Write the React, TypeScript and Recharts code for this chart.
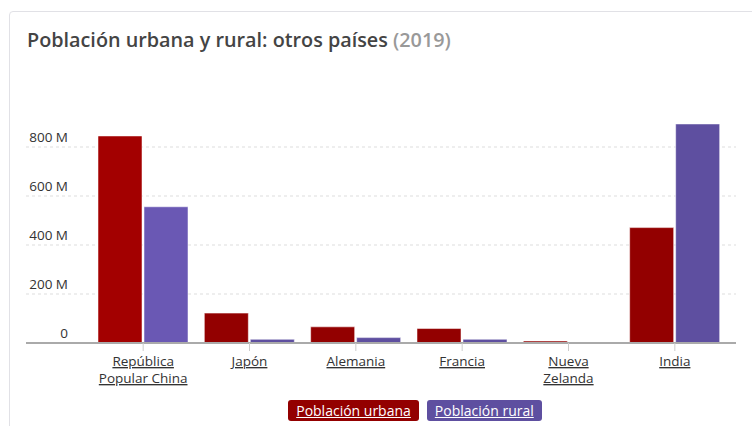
import { BarChart, Bar, XAxis, YAxis, CartesianGrid, Cell, Legend } from 'recharts'

const countries = ['República Popular China', 'Japón', 'Alemania', 'Francia', 'Nueva Zelanda', 'India']
const tickLines = [['República', 'Popular China'], ['Japón'], ['Alemania'], ['Francia'], ['Nueva', 'Zelanda'], ['India']]
const urbana = [845, 122, 66, 59, 8, 471]
const rural = [556, 15, 22, 15, 0.7, 894]
const yTicks = [0, 200, 400, 600, 800]
const yTickLabels = ['0', '200 M', '400 M', '600 M', '800 M']

const series = [
    { key: 'urbana', name: 'Población urbana', color: '#930000', highlight: '#a30000' },
    { key: 'rural', name: 'Población rural', color: '#5e4fa0', highlight: '#6a58b4' },
]

const data = countries.map((c, i) => ({ country: c, urbana: urbana[i], rural: rural[i] }))

const FONT = '"Open Sans", sans-serif'

const YTick = (props: any) => {
    const i = yTicks.indexOf(props.payload.value)
    return (
        <text x={68} y={props.y - 5.5} textAnchor="end" fontSize={13.5} fill="#333" fontFamily={FONT}>
            {yTickLabels[i]}
        </text>
    )
}

const XTick = (props: any) => {
    const lines = tickLines[props.index] || [props.payload.value]
    return (
        <g>
            {lines.map((l, j) => (
                <text key={j} x={props.x} y={props.y + 13 + j * 17} textAnchor="middle" fontSize={13.5} fill="#333"
                    fontFamily={FONT} style={{ textDecoration: 'underline' }}>
                    {l}
                </text>
            ))}
        </g>
    )
}

const LegendButtons = () => (
    <div style={{ display: 'flex', justifyContent: 'center', gap: 8, paddingLeft: 78 }}>
        {series.map(s => (
            <span key={s.key} style={{
                background: s.color, color: '#fff', fontFamily: FONT, fontSize: 14, lineHeight: '21px',
                padding: '0 8px', borderRadius: 3, textDecoration: 'underline',
            }}>{s.name}</span>
        ))}
    </div>
)

export default function App() {
    return (
        <div style={{ position: 'absolute', left: 0, top: 0, width: 752, height: 426, overflow: 'hidden', background: '#fff' }}>
            <div style={{
                position: 'absolute', left: 9, top: 11, width: 800, height: 500,
                border: '1px solid #e1e1e6', borderRadius: 4,
            }} />
            <div style={{
                position: 'absolute', left: 27, top: 27, fontFamily: FONT, fontSize: 19.8, fontWeight: 600,
                color: '#444', whiteSpace: 'nowrap', lineHeight: '26px',
            }}>
                Población urbana y rural: otros países <span style={{ color: '#999' }}>(2019)</span>
            </div>
            <div style={{ position: 'absolute', left: 0, top: 0 }}>
                <BarChart width={752} height={426} data={data} barSize={44} barGap={2}
                    margin={{ top: 98, right: 16, left: 25, bottom: 33 }}>
                    <CartesianGrid vertical={false} horizontalValues={yTicks} stroke="#ddd" strokeDasharray="3 3" />
                    <XAxis dataKey="country" height={50} padding={{ left: 64, right: 8 }} interval={0}
                        axisLine={{ stroke: '#aaa', strokeWidth: 2 }} tickLine={{ stroke: '#ccc' }} tickSize={8}
                        tickMargin={2} tick={<XTick />} />
                    <YAxis width={1} domain={[0, 1000]} ticks={yTicks} interval={0} axisLine={false} tickLine={false}
                        tick={<YTick />} />
                    <Legend layout="horizontal" verticalAlign="middle" align="center"
                        wrapperStyle={{ top: 400, left: 0, width: 752 }} content={<LegendButtons />} />
                    {series.map(s => (
                        <Bar key={s.key} dataKey={s.key} name={s.name} fill={s.color} stroke="rgba(255,255,255,0.5)"
                            isAnimationActive={false}>
                            {data.map((d, i) => (
                                <Cell key={i} fill={i === 0 ? s.highlight : s.color} />
                            ))}
                        </Bar>
                    ))}
                </BarChart>
            </div>
        </div>
    )
}
